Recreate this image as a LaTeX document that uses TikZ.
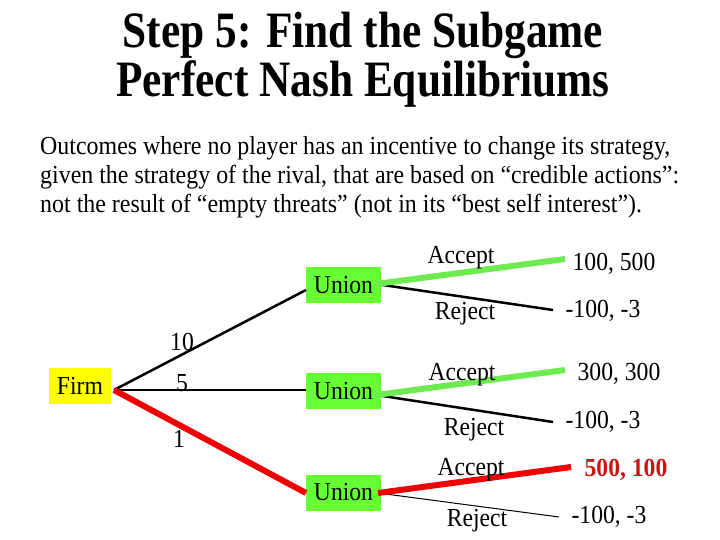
\documentclass[tikz,border=0pt]{standalone}
\usepackage{fontspec}
\setmainfont{Liberation Serif}[FakeStretch=0.91]
\newfontfamily\bodyfont{Liberation Serif}[FakeStretch=0.92]
\newfontfamily\lblfont{Liberation Serif}[FakeStretch=0.91]
\newfontfamily\titlefont{Liberation Serif}[FakeStretch=0.85]
\definecolor{boxgreen}{RGB}{102,255,51}
\definecolor{linegreen}{RGB}{110,235,80}
\definecolor{firmyellow}{RGB}{255,255,0}
\definecolor{myred}{RGB}{240,0,0}
\definecolor{payred}{RGB}{204,20,20}
\tikzset{
  titletext/.style={anchor=base,inner sep=0,font=\titlefont\bfseries\fontsize{51}{51}\selectfont},
  bodytext/.style={anchor=base west,inner sep=0,font=\bodyfont\fontsize{26}{29}\selectfont},
  lbl/.style={anchor=base,inner sep=0,font=\lblfont\fontsize{26}{26}\selectfont},
  firmbox/.style={fill=firmyellow,minimum width=62pt,minimum height=36pt,inner sep=0,font=\lblfont\fontsize{26}{26}\selectfont},
  unionbox/.style={fill=boxgreen,minimum width=75pt,minimum height=36pt,inner sep=0,font=\lblfont\fontsize{26}{26}\selectfont},
  blackline/.style={draw=black,line width=2.5pt},
  thinline/.style={draw=black,line width=1pt},
  greenline/.style={draw=linegreen,line width=6pt},
  redline/.style={draw=myred,line width=6pt},
}
\begin{document}
\begin{tikzpicture}[x=1pt,y=-1pt]
\useasboundingbox[fill=white] (0,0) rectangle (720,540);
% title and text
\node[titletext] (t1) at (363,48) {Step 5: Find the Subgame};
\node[titletext] (t2) at (363,97) {Perfect Nash Equilibriums};
\node[bodytext] (b1) at (40,155) {Outcomes where no player has an incentive to change its strategy,};
\node[bodytext] (b2) at (40,184) {given the strategy of the rival, that are based on “credible actions”:};
\node[bodytext] (b3) at (40,213) {not the result of “empty threats” (not in its “best self interest”).};
% nodes
\node[firmbox] (firm) at (80,386) {Firm};
\node[unionbox] (u1) at (343.5,285) {Union};
\node[unionbox] (u2) at (343.5,391) {Union};
\node[unionbox] (u3) at (343.5,492.5) {Union};
% coordinates
\coordinate (f) at (114,390);
\coordinate (u1in) at (306,290);
\coordinate (u2in) at (306,390);
\coordinate (u3in) at (306,493);
\coordinate (u1out) at (376,284);
\coordinate (u2out) at (376,395);
\coordinate (u3out) at (378,493);
\coordinate (a1) at (565,259);
\coordinate (r1) at (553,310);
\coordinate (a2) at (565,370);
\coordinate (r2) at (553,422);
\coordinate (a3) at (571,467);
\coordinate (r3) at (559,517);
% firm edges
\draw[blackline] (f) -- (u1in);
\draw[blackline] (f) -- (u2in);
\draw[redline] (f) -- (u3in);
% union edges
\draw[blackline] (u1out) -- (r1);
\draw[greenline] (u1out) -- (a1);
\draw[blackline] (u2out) -- (r2);
\draw[greenline] (u2out) -- (a2);
\draw[thinline] (u3out) -- (r3);
\draw[redline] (u3out) -- (a3);
% branch labels
\node[lbl] (l10) at (182,350) {10};
\node[lbl] (l5) at (182,391) {5};
\node[lbl] (l1) at (179,447) {1};
\node[lbl] (acc1) at (461,263) {Accept};
\node[lbl] (rej1) at (465,319) {Reject};
\node[lbl] (acc2) at (462,380) {Accept};
\node[lbl] (rej2) at (474,435) {Reject};
\node[lbl] (acc3) at (471,475) {Accept};
\node[lbl] (rej3) at (477,526) {Reject};
% payoffs
\node[lbl] (p1) at (614,270) {100, 500};
\node[lbl] (p2) at (603,317) {-100, -3};
\node[lbl] (p3) at (619,380) {300, 300};
\node[lbl] (p4) at (603,428) {-100, -3};
\node[lbl,text=payred,font=\lblfont\bfseries\fontsize{26}{26}\selectfont] (p5) at (626,476) {500, 100};
\node[lbl] (p6) at (609,523) {-100, -3};
\end{tikzpicture}
\end{document}
